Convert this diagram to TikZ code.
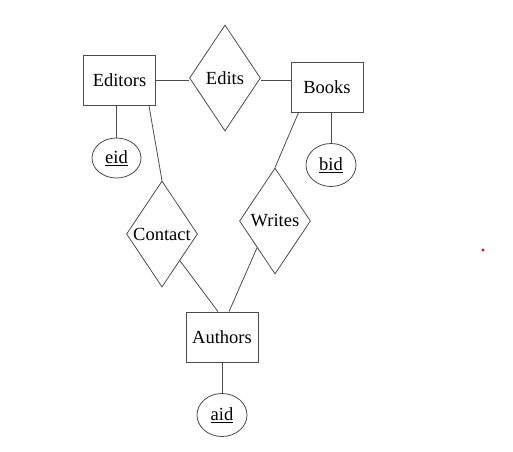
\documentclass[tikz,border=0pt]{standalone}
\usepackage{fontspec}
\setmainfont{Liberation Serif}
\usetikzlibrary{shapes.geometric}

\begin{document}
\begin{tikzpicture}[x=1pt,y=-1pt,
		every node/.style={font=\fontsize{18.5}{21}\selectfont, draw=black!70, line width=0.8pt, inner sep=0pt},
		entity/.style={rectangle, minimum width=72pt, minimum height=50pt},
		relation/.style={diamond, minimum width=71pt, minimum height=106pt},
		attr/.style={ellipse, minimum width=50pt, minimum height=43pt},
		link/.style={draw=black!70, line width=0.8pt}]
	\useasboundingbox (0,0) rectangle (513,451);
		% entities
		\node [entity] (editors) at (119.5,80) {Editors};
		\node [entity] (books) at (327,87) {Books};
		\node [entity] (authors) at (222,337) {Authors};
		% relationships
		\node [relation] (edits) at (225,78) {Edits};
		\node [relation] (contact) at (162,234) {Contact};
		\node [relation] (writes) at (275,221) {Writes};
		% keys
		\node [attr, minimum width=49pt, minimum height=40pt] (eid) at (116.5,158) {\underline{eid}};
		\node [attr] (bid) at (331,165) {\underline{bid}};
		\node [attr] (aid) at (222,415) {\underline{aid}};
		% lines
		\draw [link] (editors.east) -- (editors.east -| edits.west);
		\draw [link] (edits.east |- editors.east) -- (books.west |- editors.east);
		\draw [link] (eid.north |- editors.south) -- (eid.north);
		\draw [link] (bid.north |- books.south) -- (bid.north);
		\draw [link] ([xshift=-7pt]editors.south east) -- (contact.north);
		\draw [link] ([xshift=8pt]books.south west) -- (writes.north);
		\draw [link] (contact.south east) -- ([xshift=-4pt]authors.north);
		\draw [link] (writes.south west) -- ([xshift=7pt]authors.north);
		\draw [link] (authors.south) -- (aid.north);
	\fill [red] (483,250) circle (1.6pt);
\end{tikzpicture}
\end{document}
